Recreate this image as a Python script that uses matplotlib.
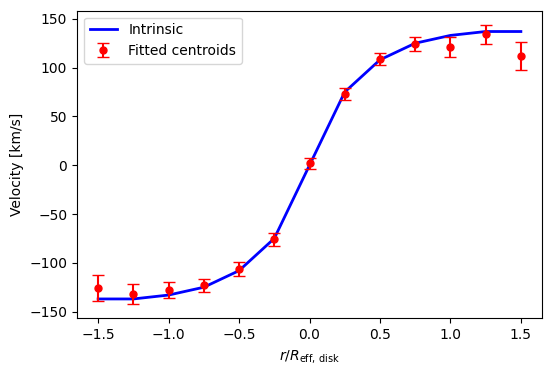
import matplotlib.pyplot as plt
import numpy as np

# radius in units of R_eff,disk
r = [-1.5, -1.25, -1.0, -0.75, -0.5, -0.25, 0.0, 0.25, 0.5, 0.75, 1.0, 1.25, 1.5]

# intrinsic rotation curve
v_intr = [-137, -137, -133, -125, -108, -75, 0, 75, 108, 125, 133, 137, 137]

# fitted centroids and errors
v_fit = [-126, -132, -128, -123, -106, -76, 2, 73, 109, 124, 121, 134, 112]
v_err = [13.5, 10.5, 8.5, 6.8, 7, 6.3, 5.6, 6, 6.3, 7, 10, 10, 14.5]

fig = plt.figure(figsize=(5.52, 3.74), dpi=100)
ax = fig.add_axes([77/552, 1-318.3/374, 465/552, 307.6/374])

ax.plot(r, v_intr, color='blue', lw=2, label='Intrinsic')
ax.errorbar(r, v_fit, yerr=v_err, fmt='o', color='red', markersize=5,
            capsize=4, label='Fitted centroids')

ax.set_xlabel(r'$r/R_{\rm eff,\,disk}$')
ax.set_ylabel('Velocity [km/s]')
ax.legend(loc='upper left')

plt.savefig('out.png', dpi=100)
